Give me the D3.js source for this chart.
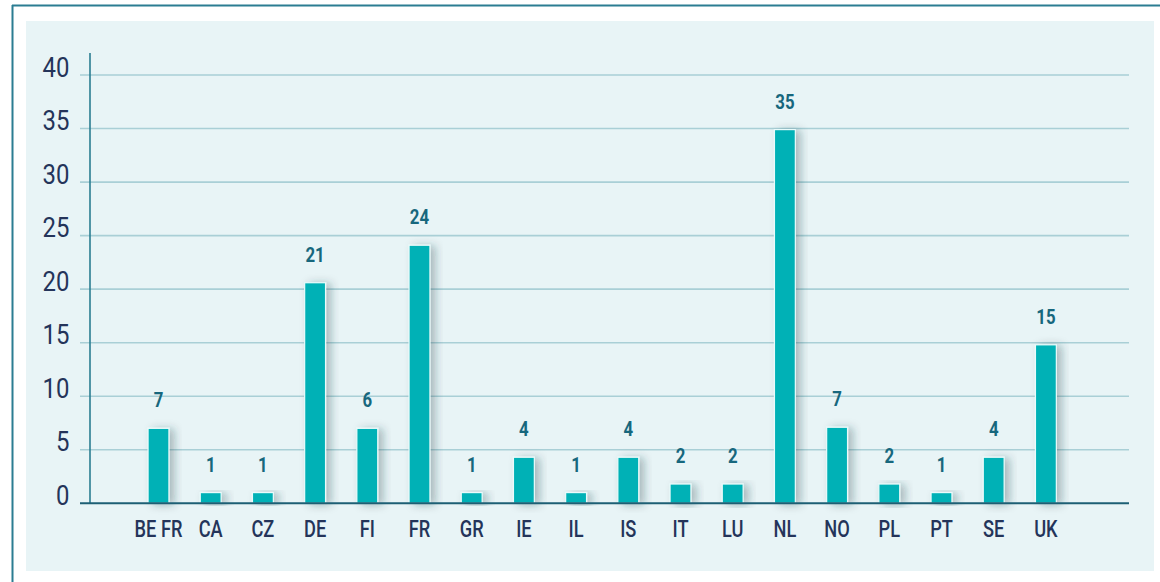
<!DOCTYPE html>
<html>
<head>
<meta charset="utf-8">
<script src="https://cdn.jsdelivr.net/npm/d3@7"></script>
<style>
  html, body { margin: 0; padding: 0; background: #ffffff; }
  svg { display: block; }
</style>
</head>
<body>
<svg id="chart" width="1160" height="582"></svg>
<script>
// ---- data ----
const categories = ["BE FR","CA","CZ","DE","FI","FR","GR","IE","IL","IS","IT","LU","NL","NO","PL","PT","SE","UK"];
const barValues   = [7, 1, 1, 20.6, 7, 24.1, 1, 4.3, 1, 4.3, 1.8, 1.8, 34.9, 7.1, 1.8, 1, 4.3, 14.8];
const valueLabels = ["7","1","1","21","6","24","1","4","1","4","2","2","35","7","2","1","4","15"];
const yTicks = [0, 5, 10, 15, 20, 25, 30, 35, 40];

// ---- setup ----
const svg = d3.select("#chart");
const W = 1160, H = 582;

const defs = svg.append("defs");
const f = defs.append("filter").attr("id", "shadow")
  .attr("x", "-60%").attr("y", "-20%").attr("width", "220%").attr("height", "140%");
f.append("feDropShadow").attr("dx", 5).attr("dy", 1).attr("stdDeviation", 4.5)
  .attr("flood-color", "#1c3a44").attr("flood-opacity", 0.32);

// outer frame lines
svg.append("line").attr("x1", 12).attr("x2", W).attr("y1", 5.5).attr("y2", 5.5)
  .attr("stroke", "#2b7d92").attr("stroke-width", 2);
svg.append("line").attr("x1", 12.5).attr("x2", 12.5).attr("y1", 5).attr("y2", H)
  .attr("stroke", "#2b7d92").attr("stroke-width", 2);

// panel background
svg.append("rect").attr("x", 26).attr("y", 21).attr("width", 1128).attr("height", 550)
  .attr("fill", "#e8f4f6");

// scales
const y = d3.scaleLinear().domain([0, 40]).range([503.3, 75]);
const x = d3.scaleBand().domain(categories).range([132.4, 1072]).paddingInner(0.6).paddingOuter(0.3);

const gridX1 = 80, gridX2 = 1129;

// gridlines
svg.append("g").selectAll("line").data(yTicks.filter(d => d > 0)).join("line")
  .attr("x1", gridX1).attr("x2", gridX2)
  .attr("y1", d => y(d)).attr("y2", d => y(d))
  .attr("stroke", "#a9cfd6").attr("stroke-width", 1.6);

// y tick labels
svg.append("g").selectAll("text").data(yTicks).join("text")
  .attr("transform", d => `translate(69.5,${y(d) + 1.5}) scale(0.84,1)`)
  .attr("text-anchor", "end")
  .attr("font-family", "Roboto, sans-serif")
  .attr("font-size", 28.5)
  .attr("fill", "#24345a")
  .text(d => d);

// y axis line
svg.append("line").attr("x1", 90).attr("x2", 90).attr("y1", 53).attr("y2", y(0))
  .attr("stroke", "#2a7d92").attr("stroke-width", 1.6);

// bars
svg.append("g").selectAll("rect").data(categories).join("rect")
  .attr("x", d => x(d))
  .attr("width", x.bandwidth())
  .attr("y", (d, i) => y(barValues[i]))
  .attr("height", (d, i) => y(0) - y(barValues[i]))
  .attr("fill", "#00b1b6")
  .attr("stroke", "#e9fbfb")
  .attr("stroke-width", 1.2)
  .attr("filter", "url(#shadow)");

// x axis line
svg.append("line").attr("x1", gridX1).attr("x2", gridX2).attr("y1", y(0)).attr("y2", y(0))
  .attr("stroke", "#1d5f74").attr("stroke-width", 2);

// value labels
svg.append("g").selectAll("text").data(categories).join("text")
  .attr("transform", (d, i) => `translate(${x(d) + x.bandwidth() / 2},${y(barValues[i]) - 21}) scale(0.82,1)`)
  .attr("text-anchor", "middle")
  .attr("font-family", "Roboto, sans-serif")
  .attr("font-weight", 700)
  .attr("font-size", 20.5)
  .attr("fill", "#17677d")
  .text((d, i) => valueLabels[i]);

// category labels
svg.append("g").selectAll("text").data(categories).join("text")
  .attr("transform", d => `translate(${x(d) + x.bandwidth() / 2},537) scale(0.76,1)`)
  .attr("text-anchor", "middle")
  .attr("font-family", "Roboto, sans-serif")
  .attr("font-weight", 500)
  .attr("font-size", 24)
  .attr("fill", "#24345a")
  .text(d => d);
</script>
</body>
</html>
